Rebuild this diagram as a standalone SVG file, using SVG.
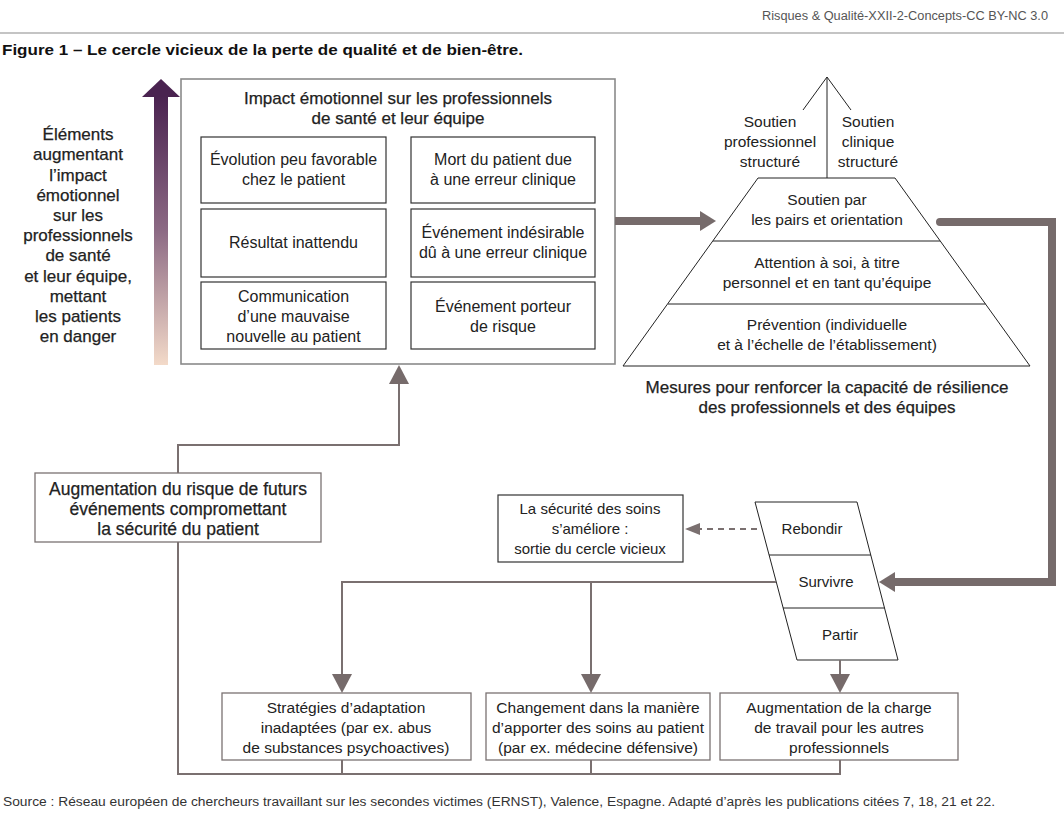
<svg xmlns="http://www.w3.org/2000/svg" width="1064" height="814" viewBox="0 0 1064 814">
<style>
text{font-family:"Liberation Sans",Arial,sans-serif;fill:#222;}
.t{font-size:15px;text-anchor:middle;}
.tb{font-size:15.5px;text-anchor:middle;}
.t16{font-size:16px;text-anchor:middle;}
.tp{font-size:15.5px;text-anchor:middle;}
.m{font-size:17px;text-anchor:middle;stroke:#222;stroke-width:0.25;}
.box{fill:#fff;stroke:#333;stroke-width:1.2;}
.gbox{fill:#fff;stroke:#8a8a8a;stroke-width:1.6;}
.bbox{fill:#fff;stroke:#7a7272;stroke-width:1.3;}
.pl{fill:none;stroke:#222;stroke-width:1;}
.thin{fill:none;stroke:#7a7070;stroke-width:2;}
.thick{fill:none;stroke:#766b6b;stroke-width:8;}
</style>
<defs>
<linearGradient id="grad" x1="0" y1="0" x2="0" y2="1">
<stop offset="0" stop-color="#4a2350"/>
<stop offset="0.5" stop-color="#8c6a84"/>
<stop offset="1" stop-color="#f3dac9"/>
</linearGradient>
<marker id="ah" viewBox="0 0 19 20" refX="0" refY="10" markerWidth="19" markerHeight="20" markerUnits="userSpaceOnUse" orient="auto">
<path d="M0,0 L19,10 L0,20 z" fill="#766b6b"/>
</marker>
<marker id="ahk" viewBox="0 0 16 20" refX="0" refY="10" markerWidth="16" markerHeight="20" markerUnits="userSpaceOnUse" orient="auto">
<path d="M0,0 L16,10 L0,20 z" fill="#766b6b"/>
</marker>
<marker id="ahd" viewBox="0 0 15 12" refX="0" refY="6" markerWidth="15" markerHeight="12" markerUnits="userSpaceOnUse" orient="auto">
<path d="M0,0 L15,6 L0,12 z" fill="#7a7070"/>
</marker>
</defs>
<rect width="1064" height="814" fill="#fff"/>

<g id="header">
<text x="1048" y="20" style="font-size:12.5px;fill:#555;text-anchor:end" textLength="286" lengthAdjust="spacingAndGlyphs">Risques &amp; Qualité-XXII-2-Concepts-CC BY-NC 3.0</text>
<line x1="0" y1="33" x2="1064" y2="33" stroke="#8a8a8a" stroke-width="1.2"/>
<text x="2" y="55" style="font-size:15px;font-weight:bold;fill:#111" textLength="521" lengthAdjust="spacingAndGlyphs">Figure 1 – Le cercle vicieux de la perte de qualité et de bien-être.</text>
</g>

<g id="impact-arrow">
<rect x="154" y="96" width="14" height="269" fill="url(#grad)"/>
<polygon points="142,97 161,79 180,97" fill="#4a2350"/>
<text class="m" x="78" y="140">Éléments</text>
<text class="m" x="78" y="160">augmentant</text>
<text class="m" x="78" y="181">l’impact</text>
<text class="m" x="78" y="201">émotionnel</text>
<text class="m" x="78" y="221">sur les</text>
<text class="m" x="78" y="241">professionnels</text>
<text class="m" x="78" y="261">de santé</text>
<text class="m" x="78" y="282">et leur équipe,</text>
<text class="m" x="78" y="302">mettant</text>
<text class="m" x="78" y="322">les patients</text>
<text class="m" x="78" y="342">en danger</text>
</g>

<g id="impact-box">
<rect class="gbox" x="181" y="79" width="434" height="285"/>
<text class="m" x="398" y="104">Impact émotionnel sur les professionnels</text>
<text class="m" x="398" y="124">de santé et leur équipe</text>
</g>
<g id="n-evolution">
<rect class="box" x="201" y="137" width="185" height="66"/>
<text class="t16" x="293.5" y="165">Évolution peu favorable</text>
<text class="t16" x="293.5" y="185">chez le patient</text>
</g>
<g id="n-mort">
<rect class="box" x="411" y="137" width="184" height="66"/>
<text class="t16" x="503" y="165">Mort du patient due</text>
<text class="t16" x="503" y="185">à une erreur clinique</text>
</g>
<g id="n-resultat">
<rect class="box" x="201" y="209" width="185" height="68"/>
<text class="t16" x="293.5" y="248">Résultat inattendu</text>
</g>
<g id="n-evenement">
<rect class="box" x="411" y="209" width="184" height="68"/>
<text class="t16" x="503" y="238">Événement indésirable</text>
<text class="t16" x="503" y="258">dû à une erreur clinique</text>
</g>
<g id="n-communication">
<rect class="box" x="201" y="282" width="185" height="67"/>
<text class="t16" x="293.5" y="302">Communication</text>
<text class="t16" x="293.5" y="322">d’une mauvaise</text>
<text class="t16" x="293.5" y="342">nouvelle au patient</text>
</g>
<g id="n-porteur">
<rect class="box" x="411" y="282" width="184" height="67"/>
<text class="t16" x="503" y="312">Événement porteur</text>
<text class="t16" x="503" y="332">de risque</text>
</g>

<g id="pyramid">
<polygon class="pl" points="758,178 895,178 1030,366 623,366"/>
<line class="pl" x1="713" y1="241" x2="940" y2="241"/>
<line class="pl" x1="668" y1="304" x2="985.5" y2="304"/>
<line class="pl" x1="827" y1="77" x2="827" y2="178"/>
<line class="pl" x1="827" y1="77" x2="803" y2="110"/>
<line class="pl" x1="827" y1="77" x2="851" y2="110"/>
<text class="tp" x="770" y="127">Soutien</text>
<text class="tp" x="770" y="147">professionnel</text>
<text class="tp" x="770" y="167">structuré</text>
<text class="tp" x="868" y="127">Soutien</text>
<text class="tp" x="868" y="147">clinique</text>
<text class="tp" x="868" y="167">structuré</text>
<text class="tp" x="827" y="205">Soutien par</text>
<text class="tp" x="827" y="225">les pairs et orientation</text>
<text class="tp" x="827" y="268">Attention à soi, à titre</text>
<text class="tp" x="827" y="288">personnel et en tant qu’équipe</text>
<text class="tp" x="827" y="330">Prévention (individuelle</text>
<text class="tp" x="827" y="350">et à l’échelle de l’établissement)</text>
<text class="m" x="827" y="393">Mesures pour renforcer la capacité de résilience</text>
<text class="m" x="827" y="413">des professionnels et des équipes</text>
</g>

<g id="n-risque">
<rect class="bbox" x="35" y="473" width="286" height="69"/>
<text class="m" x="178" y="495" style="font-size:17.5px">Augmentation du risque de futurs</text>
<text class="m" x="178" y="515" style="font-size:17.5px">événements compromettant</text>
<text class="m" x="178" y="535" style="font-size:17.5px">la sécurité du patient</text>
</g>

<g id="n-securite">
<rect class="box" x="498" y="495" width="185" height="67"/>
<text class="t" x="590" y="514">La sécurité des soins</text>
<text class="t" x="590" y="534">s’améliore :</text>
<text class="t" x="590" y="554">sortie du cercle vicieux</text>
</g>

<g id="n-reaction">
<polygon class="pl" points="755,502 857,502 898,660 797,660"/>
<line class="pl" x1="769" y1="555" x2="871" y2="555"/>
<line class="pl" x1="783" y1="608" x2="884.5" y2="608"/>
<text class="t" x="812" y="534">Rebondir</text>
<text class="t" x="826" y="587">Survivre</text>
<text class="t" x="840" y="640">Partir</text>
</g>

<g id="n-strategies">
<rect class="bbox" x="222" y="693" width="249" height="67"/>
<text class="tb" x="346" y="713">Stratégies d’adaptation</text>
<text class="tb" x="346" y="733">inadaptées (par ex. abus</text>
<text class="tb" x="346" y="753">de substances psychoactives)</text>
</g>
<g id="n-changement">
<rect class="bbox" x="486" y="693" width="224" height="67"/>
<text class="tb" x="598" y="713">Changement dans la manière</text>
<text class="tb" x="598" y="733">d’apporter des soins au patient</text>
<text class="tb" x="598" y="753">(par ex. médecine défensive)</text>
</g>
<g id="n-charge">
<rect class="bbox" x="720" y="693" width="238" height="67"/>
<text class="tb" x="839" y="713">Augmentation de la charge</text>
<text class="tb" x="839" y="733">de travail pour les autres</text>
<text class="tb" x="839" y="753">professionnels</text>
</g>

<g id="connectors">
<line class="thick" x1="615" y1="221" x2="700" y2="221" marker-end="url(#ahk)"/>
<polyline class="thick" points="940,222 1052,222 1052,582 895,582" stroke-linecap="round" stroke-linejoin="miter" marker-end="url(#ahk)"/>
<line class="thin" x1="757" y1="529" x2="700" y2="529" stroke-dasharray="6,5" marker-end="url(#ahd)"/>
<polyline class="thin" points="776,582 342,582 342,674" marker-end="url(#ah)"/>
<line class="thin" x1="591" y1="582" x2="591" y2="674" marker-end="url(#ah)"/>
<line class="thin" x1="840" y1="660" x2="840" y2="674" marker-end="url(#ah)"/>
<polyline class="thin" points="840,760 840,774 178,774 178,542"/>
<line class="thin" x1="342" y1="760" x2="342" y2="774"/>
<line class="thin" x1="591" y1="760" x2="591" y2="774"/>
<polyline class="thin" points="178,473 178,445 399,445 399,384" marker-end="url(#ah)"/>
</g>

<g id="source">
<text x="3" y="806" style="font-size:12.5px;fill:#333" textLength="992" lengthAdjust="spacingAndGlyphs">Source : Réseau européen de chercheurs travaillant sur les secondes victimes (ERNST), Valence, Espagne. Adapté d’après les publications citées 7, 18, 21 et 22.</text>
</g>
</svg>
